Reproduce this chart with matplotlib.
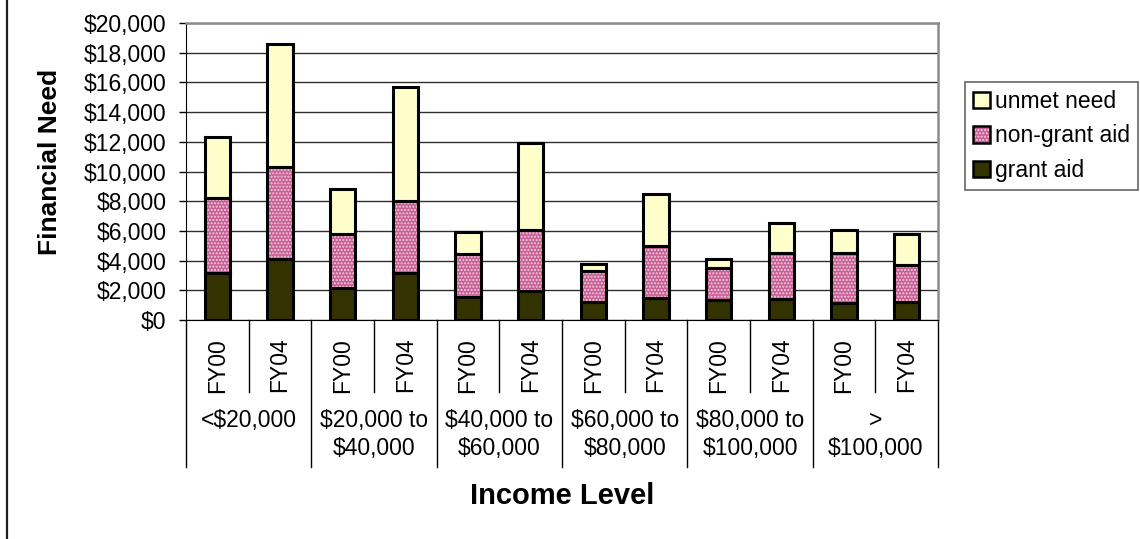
import matplotlib.pyplot as plt
import numpy as np
from matplotlib.lines import Line2D
from matplotlib.patches import Patch

plt.rcParams['font.family'] = ['Liberation Sans', 'DejaVu Sans']
plt.rcParams['hatch.linewidth'] = 1.0

# income groups and the two survey years within each
groups = ['<$20,000', '$20,000 to\n$40,000', '$40,000 to\n$60,000',
          '$60,000 to\n$80,000', '$80,000 to\n$100,000', '>\n$100,000']
years = ['FY00', 'FY04']

# stacked components, in dollars (FY00, FY04 for each group)
grant_aid = [3150, 4130, 2180, 3190, 1570, 1970, 1190, 1500, 1330, 1390, 1140, 1210]
non_grant_aid = [5090, 6150, 3590, 4840, 2850, 4090, 2110, 3500, 2150, 3100, 3390, 2490]
unmet_need = [4110, 8320, 3050, 7640, 1480, 5840, 470, 3510, 630, 2020, 1510, 2090]

yticks = list(range(0, 20001, 2000))

grant_col = '#333300'
pink_col = '#c85e93'
dot_col = '#efd0e0'
unmet_col = '#ffffcc'

fig = plt.figure(figsize=(11.4, 5.39), dpi=100)
ax = fig.add_axes([186 / 1140, 1 - 320 / 539, 752 / 1140, 297 / 539])

n = len(grant_aid)
x = np.arange(n)
w = 0.4
g = np.array(grant_aid)
ng = np.array(non_grant_aid)
un = np.array(unmet_need)
lw = 2.2

ax.bar(x, g, w, color=grant_col, edgecolor='black', linewidth=lw, zorder=3)
# speckled fill for non-grant aid: pink base, light dots, black outline on top
ax.bar(x, ng, w, bottom=g, color=pink_col, edgecolor=dot_col, linewidth=0,
       hatch='.....', zorder=3)
ax.bar(x, ng, w, bottom=g, fill=False, edgecolor='black', linewidth=lw, zorder=4)
ax.bar(x, un, w, bottom=g + ng, color=unmet_col, edgecolor='black',
       linewidth=lw, zorder=3)

ax.set_xlim(-0.5, n - 0.5)
ax.set_ylim(0, 20000)
ax.set_yticks(yticks)
ax.set_yticklabels(['${:,}'.format(v) for v in yticks], fontsize=16.5)
ax.tick_params(axis='y', direction='out', length=5, width=1, pad=9)
ax.set_xticks([])
ax.yaxis.grid(True, color='#303030', linewidth=1)
ax.set_axisbelow(True)

for side in ['top', 'right']:
    ax.spines[side].set_color('#8c8c8c')
    ax.spines[side].set_linewidth(1.8)
ax.spines['left'].set_color('black')
ax.spines['bottom'].set_color('black')
ax.spines['bottom'].set_zorder(5)

# two-level category axis below the plot
tr = ax.get_xaxis_transform()
for i in range(n):
    ax.text(i, -0.152, years[i % 2], rotation=90, ha='center', va='center',
            fontsize=16.5, transform=tr)
for i in range(n + 1):
    edge = i - 0.5
    depth = -0.495 if i % 2 == 0 else -0.242
    ax.add_line(Line2D([edge, edge], [0, depth], color='black', linewidth=1,
                       transform=tr, clip_on=False))
for j, lab in enumerate(groups):
    ax.text(2 * j + 0.5, -0.298, lab, ha='center', va='top', fontsize=16.5,
            linespacing=1.3, transform=tr)

ax.text(0.5, -0.594, 'Income Level', ha='center', va='center', fontsize=21,
        fontweight='bold', transform=ax.transAxes)
fig.text(50 / 1140, 1 - 162 / 539, 'Financial Need', rotation=90, ha='center',
         va='center', fontsize=19, fontweight='bold')

pink_handle = (Patch(facecolor=pink_col, edgecolor=dot_col, linewidth=0,
                     hatch='.....'),
               Patch(fill=False, edgecolor='black', linewidth=1.8))
handles = [Patch(facecolor=unmet_col, edgecolor='black', linewidth=1.8),
           pink_handle,
           Patch(facecolor=grant_col, edgecolor='black', linewidth=1.8)]
leg = fig.legend(handles, ['unmet need', 'non-grant aid', 'grant aid'],
                 loc='upper left', bbox_to_anchor=(965 / 1140, 1 - 82 / 539),
                 fontsize=16.5, frameon=True, fancybox=False, borderpad=0.35,
                 handlelength=0.75, handleheight=0.75, handletextpad=0.2,
                 labelspacing=0.5, borderaxespad=0)
leg.get_frame().set_edgecolor('#404040')
leg.get_frame().set_linewidth(1.2)

# frame line down the left edge of the figure
fig.add_artist(Line2D([7 / 1140, 7 / 1140], [0, 1], color='#202020',
                      linewidth=1.6, transform=fig.transFigure))

fig.savefig('out.png', dpi=100)
